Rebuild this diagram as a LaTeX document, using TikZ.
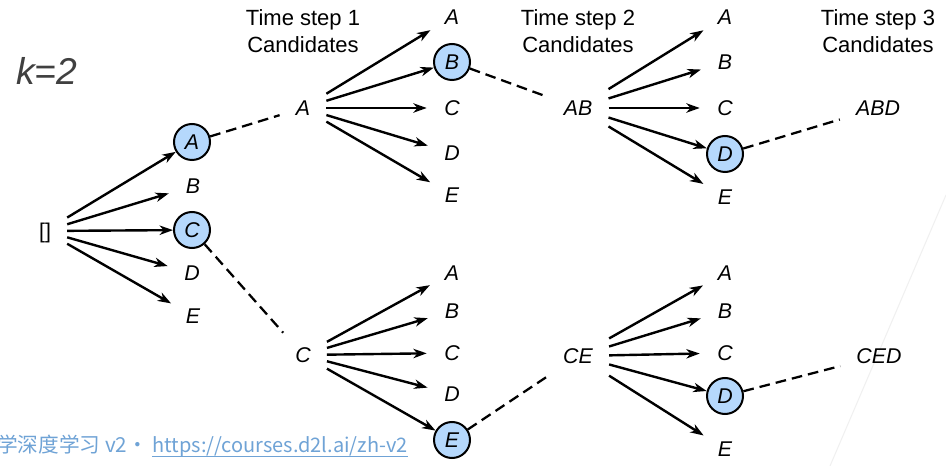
\documentclass[tikz,border=0pt]{standalone}
\usepackage{fontspec}
\setmainfont{Liberation Sans}
\newfontfamily\cjkfont{Noto Sans CJK SC}
\usetikzlibrary{arrows.meta}
\definecolor{selfill}{HTML}{B5D8FC}
\definecolor{kgray}{HTML}{404040}
\definecolor{wmblue}{HTML}{6FA3D6}
\begin{document}
\begin{tikzpicture}[x=0.75pt,y=-0.75pt,
  letter/.style={font=\fontsize{16}{19}\selectfont\itshape, text height=11.5pt, text depth=0pt},
  src/.style={letter, rectangle, inner xsep=12pt, inner ysep=0pt, minimum height=33pt},
  cand/.style={letter, circle, inner sep=0pt, minimum size=37.5pt},
  chosen/.style={letter, circle, draw=black, line width=1.5pt, fill=selfill, inner sep=0pt, minimum size=27pt},
  expand/.style={line width=1.8pt, -{Stealth[length=10pt,width=7pt,inset=3pt]}},
  keep/.style={line width=1.7pt, dash pattern=on 8pt off 4.5pt},
  header/.style={font=\fontsize{16.5}{20.25}\selectfont, align=center, anchor=base}
]
\useasboundingbox (0,0) rectangle (946,466);
\fill[white] (0,0) rectangle (946,466);

% faint slide decoration
\draw[gray!12, line width=0.75pt] (946,195) -- (830,466);

% beam width
\node[anchor=base west, inner sep=0pt, text=kgray, font=\fontsize{28}{30}\selectfont\itshape] (beam) at (16,85) {k=2};

% column headers (anchored on the baseline of the second line)
\node[header] (h1) at (303,53) {Time step 1\\Candidates};
\node[header] (h2) at (578,53) {Time step 2\\Candidates};
\node[header] (h3) at (878,53) {Time step 3\\Candidates};

% start
\node[src, font=\fontsize{16}{19}\selectfont\upshape] (root) at (45,231) {[]};

% time step 1
\node[chosen] (l1A) at (192,142) {A};
\node[cand]   (l1B) at (193,186) {B};
\node[chosen] (l1C) at (192,230) {C};
\node[cand]   (l1D) at (192,273) {D};
\node[cand]   (l1E) at (193,316) {E};
\foreach \t in {A,B,C,D,E} \draw[expand] (root) -- (l1\t);

% time step 2, upper beam
\node[src] (sA) at (303,108) {A};
\node[cand]   (uA) at (452,17) {A};
\node[chosen] (uB) at (452,62) {B};
\node[cand]   (uC) at (452,108) {C};
\node[cand]   (uD) at (452,153) {D};
\node[cand]   (uE) at (452,195) {E};
\foreach \t in {A,B,C,D,E} \draw[expand] (sA) -- (u\t);

% time step 2, lower beam
\node[src] (sC) at (303,355) {C};
\node[cand]   (dA) at (452,273) {A};
\node[cand]   (dB) at (452,311) {B};
\node[cand]   (dC) at (452,353) {C};
\node[cand]   (dD) at (452,394) {D};
\node[chosen] (dE) at (452,440) {E};
\foreach \t in {A,B,C,D,E} \draw[expand] (sC) -- (d\t);

% time step 3, upper beam
\node[src] (sAB) at (578,108) {AB};
\node[cand]   (vA) at (725,17) {A};
\node[cand]   (vB) at (725,62) {B};
\node[cand]   (vC) at (725,108) {C};
\node[chosen] (vD) at (725,154) {D};
\node[cand]   (vE) at (725,197) {E};
\foreach \t in {A,B,C,D,E} \draw[expand] (sAB) -- (v\t);

% time step 3, lower beam
\node[src] (sCE) at (578,356) {CE};
\node[cand]   (wA) at (725,273) {A};
\node[cand]   (wB) at (725,311) {B};
\node[cand]   (wC) at (725,353) {C};
\node[chosen] (wD) at (725,396) {D};
\node[cand]   (wE) at (725,449) {E};
\foreach \t in {A,B,C,D,E} \draw[expand] (sCE) -- (w\t);

% final sequences
\node[src] (fABD) at (878,108) {ABD};
\node[src] (fCED) at (879,356) {CED};

% kept hypotheses
\draw[keep] (l1A) -- (sA);
\draw[keep] (l1C) -- (sC);
\draw[keep] (uB) -- (sAB);
\draw[keep] (dE) -- (sCE);
\draw[keep] (vD) -- (fABD);
\draw[keep] (wD) -- (fCED);

% footer
\node[anchor=base east, inner sep=0pt, text=wmblue, font=\cjkfont\fontsize{15}{17}\selectfont] (url) at (408,453) {https://courses.d2l.ai/zh-v2};
\node[anchor=base east, inner sep=0pt, xshift=-3pt, text=wmblue, font=\cjkfont\fontsize{15.5}{17}\selectfont] (book) at (url.base west) {学深度学习 v2・};
\draw[wmblue, line width=0.8pt] ([yshift=-2.5pt]url.base west) -- ([yshift=-2.5pt]url.base east);
\end{tikzpicture}
\end{document}
